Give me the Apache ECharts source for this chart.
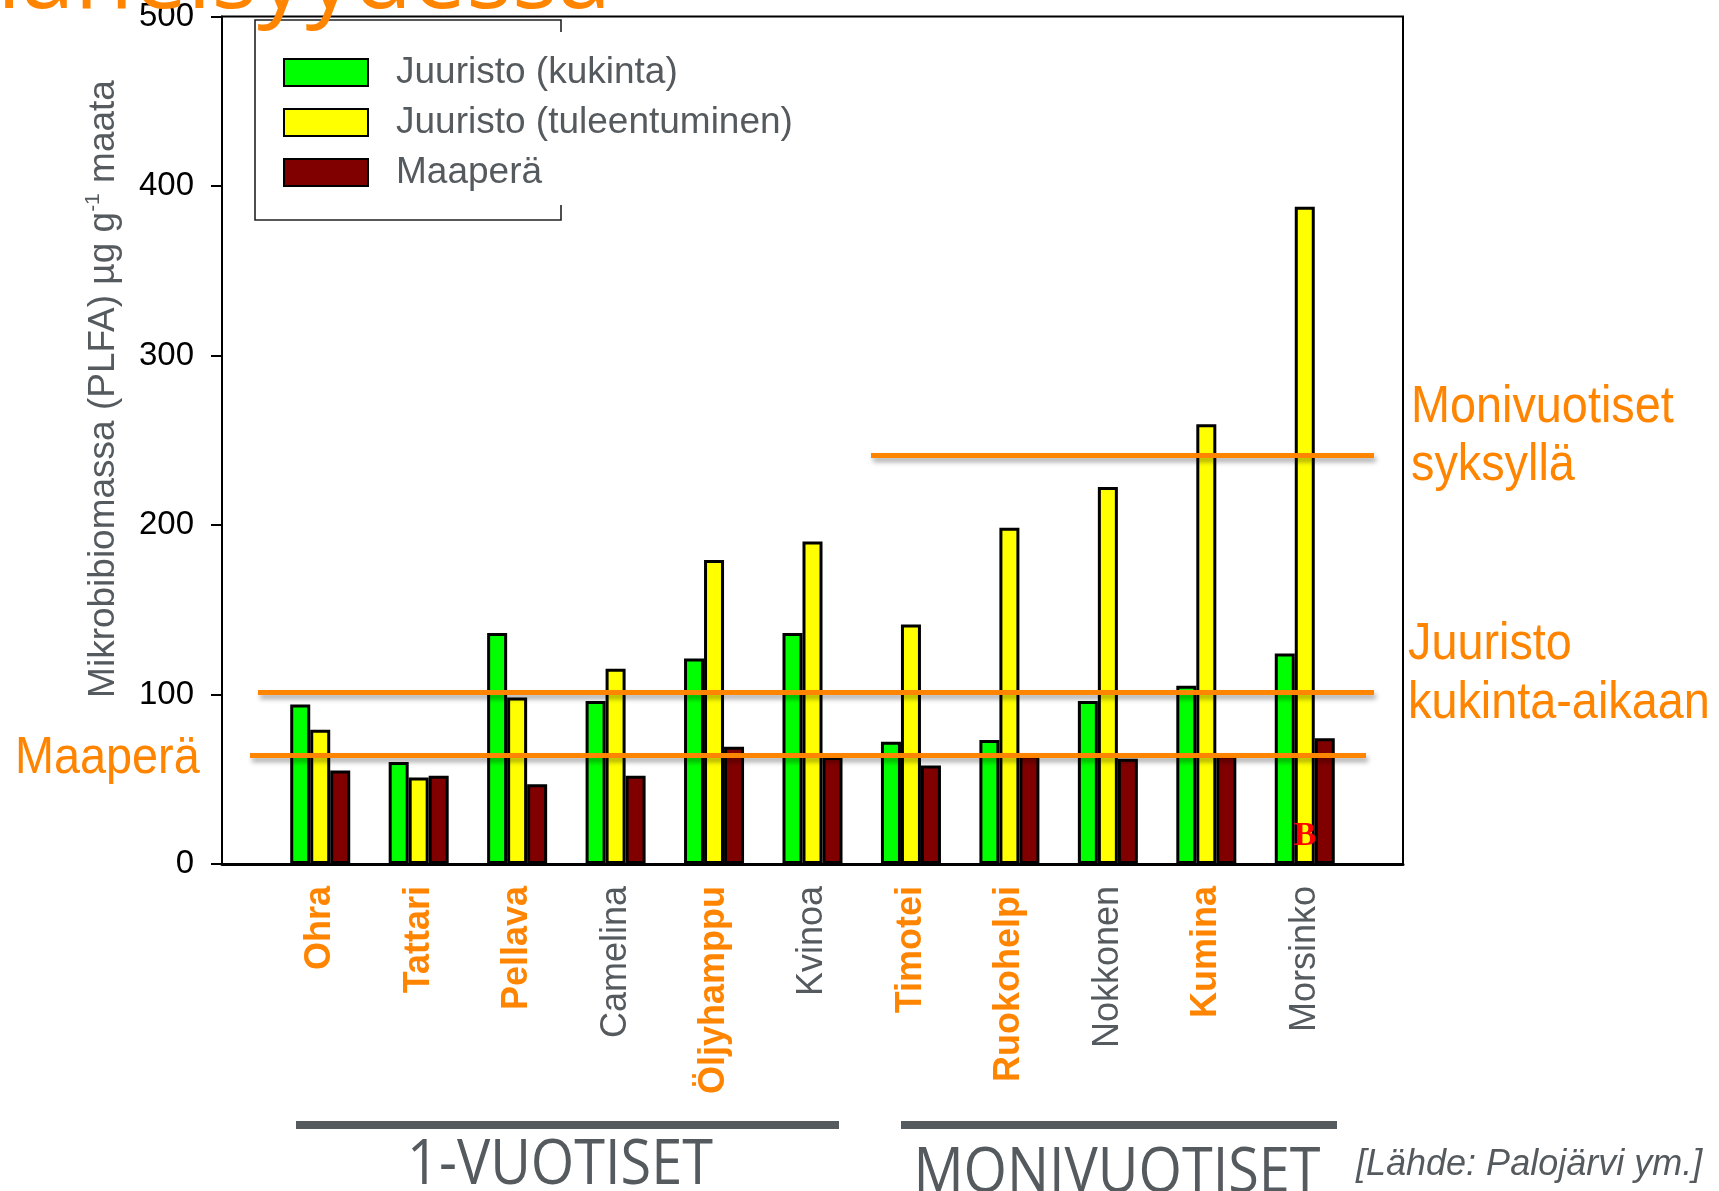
<!DOCTYPE html>
<html>
<head>
<meta charset="utf-8">
<script src="https://cdn.jsdelivr.net/npm/echarts@6/dist/echarts.min.js"></script>
<style>html,body{margin:0;padding:0;background:#fff;}#c{width:1719px;height:1191px;}</style>
</head>
<body>
<div id="c"></div>
<script>
// ---- data ----
const categories = ['Ohra','Tattari','Pellava','Camelina','Öljyhamppu','Kvinoa','Timotei','Ruokohelpi','Nokkonen','Kumina','Morsinko'];
const highlighted = ['Ohra','Tattari','Pellava','Öljyhamppu','Timotei','Ruokohelpi','Kumina'];
const seriesNames = ['Juuristo (kukinta)','Juuristo (tuleentuminen)','Maaperä'];
const kukinta      = [94, 60, 136, 96, 121, 136, 72, 73, 96, 105, 124];
const tuleentuminen= [79, 51, 98, 115, 179, 190, 141, 198, 222, 259, 387];
const maapera      = [55, 52, 47, 52, 69, 63, 58, 64, 62, 64, 74];
const refLevels = {maapera: 64, kukinta: 101, syksy: 241};
const yTicks = [0, 100, 200, 300, 400, 500];

const ORANGE = '#ff8400';
const GRAY = '#555a5e';
const chart = echarts.init(document.getElementById('c'), null, {renderer: 'canvas'});

const refLineStyle = {color: ORANGE, width: 5, type: 'solid',
  shadowColor: 'rgba(0,0,0,0.35)', shadowBlur: 5, shadowOffsetX: 2, shadowOffsetY: 4};

function bar(name, data, color, withMarks) {
  const s = {
    name, type: 'bar', data, xAxisIndex: 1, yAxisIndex: 1,
    barWidth: 20, barGap: '0%',
    itemStyle: {color, borderColor: '#000', borderWidth: 3},
    emphasis: {disabled: true}
  };
  if (withMarks) {
    s.markLine = {
      silent: true, symbol: ['none','none'], label: {show: false},
      lineStyle: refLineStyle, z: 5,
      data: [
        [{x: 871, yAxis: refLevels.syksy}, {x: 1374, yAxis: refLevels.syksy}],
        [{x: 258, yAxis: refLevels.kukinta}, {x: 1374, yAxis: refLevels.kukinta}],
        [{x: 250, yAxis: refLevels.maapera}, {x: 1366, yAxis: refLevels.maapera}]
      ]
    };
  }
  return s;
}

const option = {
  animation: false,
  backgroundColor: '#fff',
  textStyle: {fontFamily: 'Liberation Sans, Arial, sans-serif'},
  grid: [
    {left: 222, right: 316, top: 15, bottom: 327, show: true, borderColor: '#000', borderWidth: 2, backgroundColor: 'transparent'},
    {left: 271, right: 365, top: 15, bottom: 327}
  ],
  xAxis: [
    {gridIndex: 0, type: 'value', min: 0, max: 1, axisLine: {show: true, lineStyle: {color: '#000', width: 3}},
     axisTick: {show: false}, axisLabel: {show: false}, splitLine: {show: false}},
    {gridIndex: 1, type: 'category', data: categories,
     axisLine: {show: false}, axisTick: {show: false},
     axisLabel: {rotate: 90, margin: 22, interval: 0,
       formatter: v => highlighted.includes(v) ? '{o|' + v + '}' : '{g|' + v + '}',
       rich: {
         o: {color: ORANGE, fontWeight: 'bold', fontSize: 36, fontFamily: 'Liberation Sans'},
         g: {color: GRAY, fontSize: 36, fontFamily: 'Liberation Sans'}
       }}}
  ],
  yAxis: [
    {gridIndex: 0, type: 'value', min: yTicks[0], max: yTicks[yTicks.length-1], interval: 100,
     axisLine: {show: true, lineStyle: {color: '#000', width: 2}},
     axisTick: {show: true, length: 11, lineStyle: {color: '#000', width: 2}},
     axisLabel: {color: '#000', fontSize: 33, margin: 28, fontFamily: 'Liberation Sans'},
     splitLine: {show: false}},
    {gridIndex: 1, type: 'value', min: 0, max: 500, show: false, splitLine: {show: false}}
  ],
  legend: {
    data: seriesNames, orient: 'vertical', left: 255, top: 20,
    padding: [34, 0, 0, 28], itemWidth: 84, itemHeight: 27, itemGap: 13,
    icon: 'rect', selectedMode: false,
    textStyle: {fontSize: 37, lineHeight: 27, color: GRAY, padding: [0, 0, 0, 23], fontFamily: 'Liberation Sans'}
  },
  series: [
    bar(seriesNames[0], kukinta, '#00ff00', true),
    bar(seriesNames[1], tuleentuminen, '#ffff00', false),
    bar(seriesNames[2], maapera, '#800000', false)
  ],
  graphic: [
    // legend frame
    {type: 'polyline', z: 51, shape: {points: [[561, 32], [561, 20], [255, 20], [255, 220], [561, 220], [561, 205]]},
     style: {stroke: '#222', lineWidth: 1.6, fill: null}},
    // title remnant at top
    {type: 'text', z: 60, x: -3, y: -19, style: {text: 'läheisyydessä', font: '96px "Open Sans", sans-serif',
      fill: ORANGE, align: 'left', verticalAlign: 'middle'}},
    // y axis name
    {type: 'text', z: 60, x: 104, y: 389, rotation: Math.PI / 2,
     style: {text: '{a|Mikrobibiomassa (PLFA) µg g}{s|-1}{a| maata}', align: 'center', verticalAlign: 'middle',
       rich: {a: {fontSize: 37, fill: GRAY, fontFamily: 'Liberation Sans', lineHeight: 42},
              s: {fontSize: 21, fill: GRAY, fontFamily: 'Liberation Sans', verticalAlign: 'top', lineHeight: 42}}}},
    // right / left annotations
    {type: 'text', z: 60, x: 1411, y: 408, scaleX: 0.9,
     style: {text: 'Monivuotiset', font: '52px "Liberation Sans", sans-serif', fill: ORANGE, align: 'left', verticalAlign: 'middle'}},
    {type: 'text', z: 60, x: 1411, y: 466, scaleX: 0.9,
     style: {text: 'syksyllä', font: '52px "Liberation Sans", sans-serif', fill: ORANGE, align: 'left', verticalAlign: 'middle'}},
    {type: 'text', z: 60, x: 1408, y: 645, scaleX: 0.9,
     style: {text: 'Juuristo', font: '52px "Liberation Sans", sans-serif', fill: ORANGE, align: 'left', verticalAlign: 'middle'}},
    {type: 'text', z: 60, x: 1408, y: 704, scaleX: 0.9,
     style: {text: 'kukinta-aikaan', font: '52px "Liberation Sans", sans-serif', fill: ORANGE, align: 'left', verticalAlign: 'middle'}},
    {type: 'text', z: 60, x: 15, y: 759, scaleX: 0.9,
     style: {text: 'Maaperä', font: '52px "Liberation Sans", sans-serif', fill: ORANGE, align: 'left', verticalAlign: 'middle'}},
    // red B marker
    {type: 'text', z: 60, x: 1305, y: 836,
     style: {text: 'B', font: 'bold 34px "Liberation Serif", serif', fill: '#ff0000', align: 'center', verticalAlign: 'middle'}},
    // group bars
    {type: 'rect', z: 60, shape: {x: 296, y: 1121, width: 543, height: 8}, style: {fill: GRAY}},
    {type: 'rect', z: 60, shape: {x: 901, y: 1121, width: 436, height: 8}, style: {fill: GRAY}},
    {type: 'text', z: 60, x: 560, y: 1166, scaleX: 0.9,
     style: {text: '1-VUOTISET', font: '62px "Open Sans", sans-serif', fill: GRAY, align: 'center', verticalAlign: 'middle'}},
    {type: 'text', z: 60, x: 1117, y: 1174, scaleX: 0.9,
     style: {text: 'MONIVUOTISET', font: '62px "Open Sans", sans-serif', fill: GRAY, align: 'center', verticalAlign: 'middle'}},
    {type: 'text', z: 60, x: 1356, y: 1165,
     style: {text: '[Lähde: Palojärvi ym.]', font: 'italic 36px "Liberation Sans", sans-serif', fill: GRAY, align: 'left', verticalAlign: 'middle'}}
  ]
};
chart.setOption(option);
</script>
</body>
</html>
